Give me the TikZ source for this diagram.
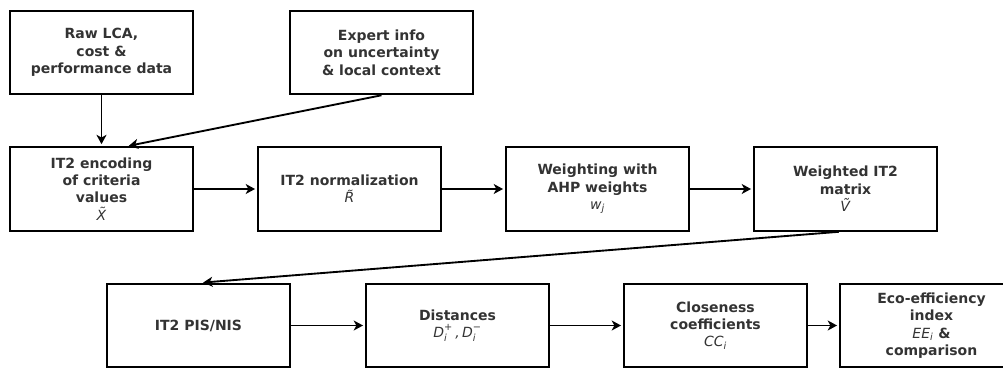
\documentclass[tikz,border=0pt]{standalone}
\usepackage{amsmath}
\usepackage{fontspec}
\setmainfont{DejaVu Sans}
\usetikzlibrary{arrows.meta}
\definecolor{txt}{HTML}{333333}
\newcommand{\mi}[1]{\textit{\mdseries #1}}
\begin{document}
\begin{tikzpicture}[x=0.75pt,y=-0.75pt,
  box/.style={draw=black,line width=1.7pt,minimum width=137pt,minimum height=62.5pt,
    inner sep=0pt,align=center,text=txt,font=\fontsize{10.5}{13}\selectfont\bfseries},
  conn/.style={-{Stealth[length=7pt,width=7.5pt,inset=2pt]},line width=1.4pt,shorten >=1.5pt}]
\useasboundingbox (0,0) rectangle (1003,370);
\node[box] (raw) at (101.5,52.5) {Raw LCA,\\cost \&\\performance data};
\node[box] (exp) at (381.5,52.5) {Expert info\\on uncertainty\\\& local context};
\node[box] (enc) at (101.5,189) {IT2 encoding\\of criteria\\values\\\mi{\~X}};
\node[box] (nor) at (349.5,189) {IT2 normalization\\\mi{\~R}};
\node[box] (wei) at (597.5,189) {Weighting with\\AHP weights\\$\mi{w}_{\mi{j}}$};
\node[box] (wm) at (845.5,189) {Weighted IT2\\matrix\\\mi{\~V}};
\node[box] (pis) at (198.5,325.5) {IT2 PIS/NIS};
\node[box] (dis) at (457.5,325.5) {Distances\\$\mi{D}_{\mi{i}}^{\text{\mdseries+}}\mi{\,,\,}\mi{D}_{\mi{i}}^{\text{\mdseries−}}$};
\node[box] (clo) at (715.5,325.5) {Closeness\\coefficients\\$\mi{CC}_{\mi{i}}$};
\node[box] (eco) at (931.5,325.5) {Eco-efficiency\\index\\$\mi{EE}_{\mi{i}}$ \&\\comparison};
\draw[conn] (raw.south) -- (enc.north);
\draw[conn] (exp.south) -- ([xshift=19pt]enc.north);
\draw[conn] (enc) -- (nor);
\draw[conn] (nor) -- (wei);
\draw[conn] (wei) -- (wm);
\draw[conn] ([xshift=-5pt]wm.south) -- ([xshift=2pt]pis.north);
\draw[conn] (pis) -- (dis);
\draw[conn] (dis) -- (clo);
\draw[conn] (clo) -- (eco);
\end{tikzpicture}
\end{document}
